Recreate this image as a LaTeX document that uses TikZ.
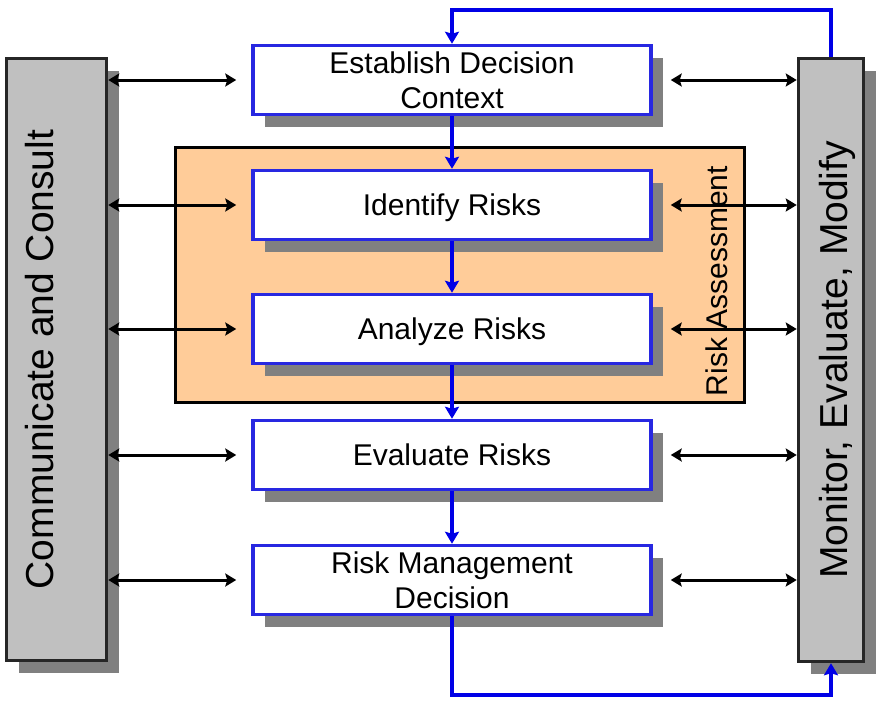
\documentclass[tikz,border=0pt]{standalone}
\usepackage{fontspec}
\setmainfont{Liberation Sans}
\usetikzlibrary{arrows.meta,shadows}
\definecolor{panelgray}{HTML}{C0C0C0}
\definecolor{shadegray}{HTML}{808080}
\definecolor{edgeblue}{RGB}{40,40,225}
\definecolor{flowblue}{RGB}{0,0,230}
\definecolor{peach}{HTML}{FFCC99}
\begin{document}
\begin{tikzpicture}[x=1pt,y=-1pt,
  shade/.style={drop shadow={shadow xshift=12pt,shadow yshift=-12pt,fill=shadegray,opacity=1}},
  stepbox/.style={shade,draw=edgeblue,line width=3.5pt,fill=white,
    minimum width=398pt,minimum height=69pt,inner sep=0pt,text depth=0pt,
    align=center,font=\fontsize{30}{35}\selectfont},
  panel/.style={shade,draw=black!85,line width=3.5pt,fill=panelgray,inner sep=0pt},
  sidelabel/.style={rotate=90,anchor=base,inner sep=0pt,font=\fontsize{39}{39}\selectfont},
  flow/.style={draw=flowblue,line width=3.5pt,-{Stealth[length=12pt,width=14pt,inset=2pt]}},
  talk/.style={line width=3pt,
    {Stealth[length=11pt,width=13pt,inset=2pt]}-{Stealth[length=11pt,width=13pt,inset=2pt]}}
]
\useasboundingbox (0,0) rectangle (879,702);

% side panels
\node[panel,minimum width=100pt,minimum height=602pt] (cc) at (56.5,359.5) {};
\node[panel,minimum width=65pt,minimum height=603pt] (mem) at (831,360) {};
\node[sidelabel] (cclab) at (53,359.5) {Communicate and Consult};
\node[sidelabel] (memlab) at (847,360) {Monitor, Evaluate, Modify};

% risk assessment frame
\node[draw=black,line width=3.5pt,fill=peach,minimum width=569pt,minimum height=255pt,
  inner sep=0pt] (ra) at (460,275) {};
\node[rotate=90,anchor=base,inner sep=0pt,font=\fontsize{30}{30}\selectfont] (ralab)
  at (727,281) {Risk Assessment};

% process steps
\node[stepbox] (est) at (452,80) {Establish Decision\\Context};
\node[stepbox] (idr) at (452,205) {Identify Risks};
\node[stepbox] (anr) at (452,329) {Analyze Risks};
\node[stepbox] (evr) at (452,455) {Evaluate Risks};
\node[stepbox] (rmd) at (452,580) {Risk Management\\Decision};

% main flow
\coordinate (loopt) at (452,10);
\coordinate (loopb) at (452,695);
\draw[flow] (mem.north) |- (loopt) -- (est.north);
\draw[flow] (est.south) -- (idr.north);
\draw[flow] (idr.south) -- (anr.north);
\draw[flow] (anr.south) -- (evr.north);
\draw[flow] (evr.south) -- (rmd.north);
\draw[flow] (rmd.south) -- (loopb) -| (mem.south);

% communication links
\foreach \s in {est,idr,anr,evr,rmd}{
  \draw[talk] (cc.east |- \s.west) -- ([xshift=-15pt]\s.west);
  \draw[talk] ([xshift=18pt]\s.east) -- (mem.west |- \s.east);
}
\end{tikzpicture}
\end{document}
